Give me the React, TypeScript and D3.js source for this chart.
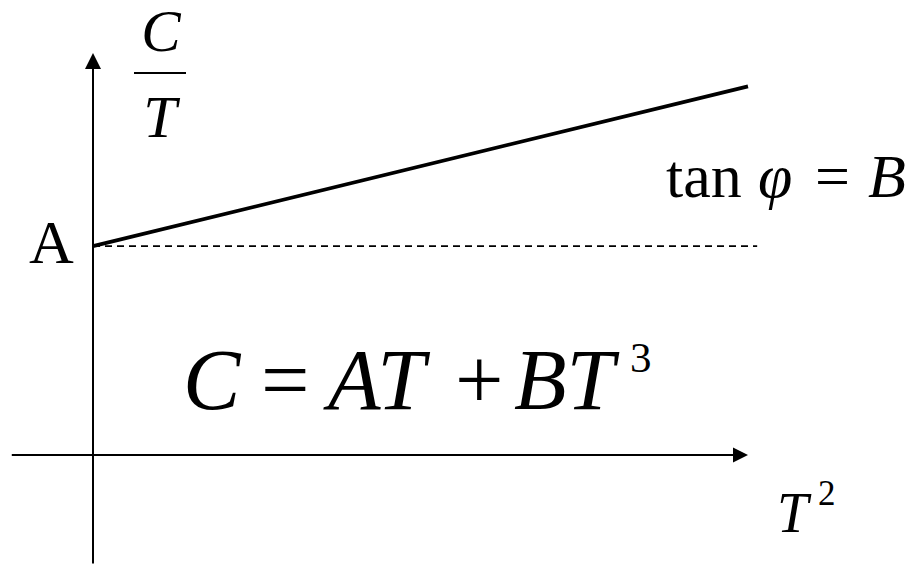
import React from "react";
import * as d3 from "d3";

// Linear relation C/T = A + B·T²
const interceptA = [2];
const slopeB = [0.153];
const t2Values = [0, 10];
const xExtent = [-1.24, 10];
const yExtent = [-1.04, 3.85];

const W = 913;
const H = 564;
const SERIF = '"Liberation Serif", "Times New Roman", Times, serif';

type TxtProps = { x: number; y: number; size: number; anchor?: "start" | "middle" | "end"; children: React.ReactNode };

// Upright serif text
function Rm({ x, y, size, anchor = "start", children }: TxtProps) {
  return (
    <text x={x} y={y} fontSize={size} textAnchor={anchor} style={{ fontFamily: SERIF }} fill="#000">
      {children}
    </text>
  );
}

// Italic serif text for math variables
function It({ x, y, size, anchor = "start", children }: TxtProps) {
  return (
    <text x={x} y={y} fontSize={size} textAnchor={anchor} style={{ fontFamily: SERIF, fontStyle: "italic" }} fill="#000">
      {children}
    </text>
  );
}

export default function App() {
  const x = d3.scaleLinear().domain([0, 10]).range([93, 748]);
  const y = d3.scaleLinear().domain([0, 3.6]).range([455, 79]);

  const linePts: [number, number][] = t2Values.map((t) => [t, interceptA[0] + slopeB[0] * t]);
  const line = d3
    .line<[number, number]>()
    .x((d) => x(d[0]))
    .y((d) => y(d[1]));

  const x0 = x(0);
  const y0 = y(0);
  const xEnd = x(xExtent[1]);
  const yTop = y(yExtent[1]);

  return (
    <svg
      width={W}
      height={H}
      style={{ position: "absolute", left: 0, top: 0, background: "#fff" }}
    >
      {/* x axis with arrow */}
      <line x1={x(xExtent[0])} y1={y0} x2={xEnd - 14} y2={y0} stroke="#000" strokeWidth={2} />
      <path d={`M${xEnd},${y0} L${xEnd - 15},${y0 - 7.5} L${xEnd - 15},${y0 + 7.5} Z`} fill="#000" />
      {/* y axis with arrow */}
      <line x1={x0} y1={y(yExtent[0])} x2={x0} y2={yTop + 14} stroke="#000" strokeWidth={2} />
      <path d={`M${x0},${yTop} L${x0 - 8},${yTop + 16} L${x0 + 8},${yTop + 16} Z`} fill="#000" />

      {/* dashed intercept level */}
      <line
        x1={x0}
        y1={y(interceptA[0])}
        x2={x(10.14)}
        y2={y(interceptA[0])}
        stroke="#000"
        strokeWidth={1.7}
        strokeDasharray="7,5"
      />
      {/* C/T vs T² line */}
      <path d={line(linePts) ?? ""} fill="none" stroke="#000" strokeWidth={3.8} />

      {/* y label: C over T */}
      <It x={161} y={51} size={59} anchor="middle">C</It>
      <line x1={134} y1={73} x2={186} y2={73} stroke="#000" strokeWidth={2} />
      <It x={160} y={137} size={60} anchor="middle">T</It>

      {/* intercept label */}
      <Rm x={29} y={263} size={62}>A</Rm>

      {/* slope label */}
      <Rm x={666} y={197} size={62}>tan</Rm>
      <It x={758} y={197} size={62}>φ</It>
      <Rm x={815} y={197} size={62}>=</Rm>
      <It x={868} y={197} size={62}>B</It>

      {/* heat capacity formula */}
      <It x={183} y={409} size={86}>C</It>
      <Rm x={261} y={409} size={86}>=</Rm>
      <It x={328} y={409} size={86}>AT</It>
      <Rm x={455} y={409} size={86}>+</Rm>
      <It x={514} y={409} size={86}>BT</It>
      <Rm x={630} y={372} size={43}>3</Rm>

      {/* x label: T² */}
      <It x={777} y={532} size={56}>T</It>
      <Rm x={818} y={505} size={35}>2</Rm>
    </svg>
  );
}
